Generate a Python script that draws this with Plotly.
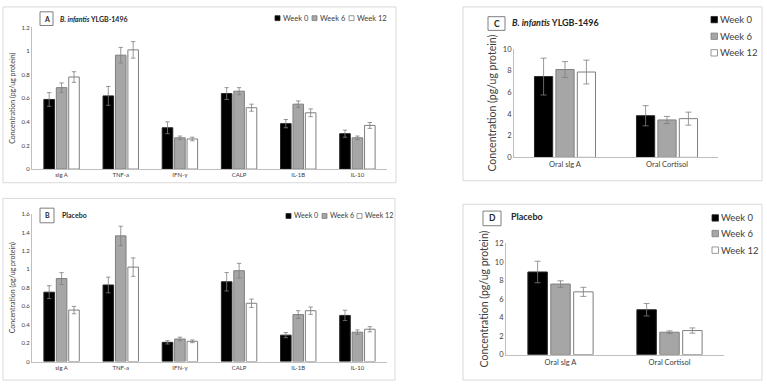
import plotly.graph_objects as go

W, H = 767, 388

# ---------------- data ----------------
cats_ab = ["sIg A", "TNF-a", "IFN-γ", "CALP", "IL-1B", "IL-10"]
weeks = ["Week 0", "Week 6", "Week 12"]

a_w0 = [0.59, 0.62, 0.35, 0.64, 0.385, 0.30]
a_w6 = [0.69, 0.965, 0.265, 0.66, 0.55, 0.265]
a_w12 = [0.78, 1.01, 0.255, 0.52, 0.477, 0.37]
a_e0 = [0.058, 0.08, 0.05, 0.05, 0.035, 0.03]
a_e6 = [0.04, 0.066, 0.015, 0.03, 0.027, 0.015]
a_e12 = [0.045, 0.07, 0.015, 0.03, 0.033, 0.025]

b_w0 = [0.752, 0.83, 0.208, 0.865, 0.286, 0.50]
b_w6 = [0.90, 1.363, 0.244, 0.985, 0.509, 0.318]
b_w12 = [0.558, 1.024, 0.219, 0.632, 0.551, 0.35]
b_e0 = [0.07, 0.085, 0.018, 0.10, 0.028, 0.056]
b_e6 = [0.064, 0.105, 0.02, 0.08, 0.042, 0.025]
b_e12 = [0.04, 0.10, 0.015, 0.045, 0.04, 0.028]

cats_cd = ["Oral sIg A", "Oral Cortisol"]
c_w0 = [7.45, 3.84]
c_w6 = [8.10, 3.45]
c_w12 = [7.87, 3.57]
c_e0 = [1.7, 0.93]
c_e6 = [0.73, 0.33]
c_e12 = [1.1, 0.6]

d_w0 = [8.91, 4.84]
d_w6 = [7.61, 2.42]
d_w12 = [6.77, 2.60]
d_e0 = [1.16, 0.67]
d_e6 = [0.35, 0.14]
d_e12 = [0.49, 0.28]

# ---------------- styles ----------------
FONT = "Lato"
fills = ["#000000", "#a6a6a6", "#ffffff"]
lines = ["#262626", "#7f7f7f", "#7f7f7f"]
TXT = "#404040"
AX = "#bfbfbf"


def px(x):
    return x / W


def py(y):
    return 1 - y / H


fig = go.Figure()

panels = [
    ("x", "y", cats_ab, [a_w0, a_w6, a_w12], [a_e0, a_e6, a_e12], 2.2),
    ("x2", "y2", cats_ab, [b_w0, b_w6, b_w12], [b_e0, b_e6, b_e12], 2.2),
    ("x3", "y3", cats_cd, [c_w0, c_w6, c_w12], [c_e0, c_e6, c_e12], 3),
    ("x4", "y4", cats_cd, [d_w0, d_w6, d_w12], [d_e0, d_e6, d_e12], 3),
]
for xa, ya, cats, vals, errs, cap in panels:
    for i in range(3):
        fig.add_trace(go.Bar(
            x=cats, y=vals[i], name=weeks[i], xaxis=xa, yaxis=ya,
            marker=dict(color=fills[i], line=dict(color=lines[i], width=1)),
            error_y=dict(type="data", array=errs[i], color="#7f7f7f",
                         thickness=0.8, width=cap),
            showlegend=False,
        ))

# ---------------- axes ----------------
def yax(domain, rng, dtick, fs, tfs, anchor):
    return dict(domain=domain, range=rng, dtick=dtick, anchor=anchor,
                showgrid=False, zeroline=False, showline=True,
                linecolor=AX, linewidth=1, ticks="",
                tickfont=dict(size=fs, color=TXT, family=FONT),
                title=dict(text="Concentration (pg/ug protein)",
                           font=dict(size=tfs, color=TXT, family=FONT),
                           standoff=4))


def xax(domain, fs, anchor):
    return dict(domain=domain, anchor=anchor, showgrid=False, zeroline=False,
                showline=True, linecolor=AX, linewidth=1, ticks="",
                tickfont=dict(size=fs, color=TXT, family=FONT))


layout = dict(
    width=W, height=H, margin=dict(l=0, r=0, t=0, b=0),
    paper_bgcolor="white", plot_bgcolor="white",
    barmode="group", bargap=0.37, bargroupgap=0.15,
    font=dict(family=FONT, color=TXT),
    xaxis=xax([px(32), px(387)], 6, "y"),
    yaxis=yax([py(169), py(24)], [0, 1.2], 0.2, 6, 7, "x"),
    xaxis2=xax([px(32), px(387)], 6, "y2"),
    yaxis2=yax([py(366), py(215)], [0, 1.6], 0.2, 6, 7, "x2"),
    xaxis3=xax([px(514), px(718)], 7.5, "y3"),
    yaxis3=yax([py(157), py(46)], [0, 10], 2, 7.5, 10.5, "x3"),
    xaxis4=xax([px(506), px(724)], 7.5, "y4"),
    yaxis4=yax([py(359), py(245)], [0, 12], 2, 7.5, 10.5, "x4"),
)
fig.update_layout(**layout)

shapes = []
annots = []

# panel borders
for (x0, y0, x1, y1) in [(3, 3, 396, 183), (3, 199, 395, 385),
                         (463, 3, 762, 181), (463, 205, 762, 385)]:
    shapes.append(dict(type="rect", xref="paper", yref="paper",
                       x0=px(x0), x1=px(x1), y0=py(y1), y1=py(y0),
                       line=dict(color="#d9d9d9", width=1), fillcolor="rgba(0,0,0,0)"))

# panel label boxes and titles
labels = [
    ("A", (40, 8, 53, 22), 7, "<b><i>B. infantis</i> YLGB-1496</b>", 58, 15, 7),
    ("B", (40, 209, 54, 224), 7, "<b>Placebo</b>", 60, 216, 7),
    ("C", (488, 13, 505, 27), 8.5, "<b><i>B. infantis</i> YLGB-1496</b>", 510, 19, 9),
    ("D", (483, 212, 501, 227), 8.5, "<b>Placebo</b>", 509, 218, 9),
]
for letter, (x0, y0, x1, y1), lfs, title, tx, ty, tfs in labels:
    shapes.append(dict(type="rect", xref="paper", yref="paper",
                       x0=px(x0), x1=px(x1), y0=py(y1), y1=py(y0),
                       line=dict(color="#7f7f7f", width=1), fillcolor="white"))
    annots.append(dict(xref="paper", yref="paper", x=px((x0 + x1) / 2), y=py((y0 + y1) / 2),
                       text="<b>" + letter + "</b>", showarrow=False,
                       font=dict(size=lfs, color="#262626", family=FONT),
                       xanchor="center", yanchor="middle"))
    annots.append(dict(xref="paper", yref="paper", x=px(tx), y=py(ty), text=title,
                       showarrow=False, font=dict(size=tfs, color="#262626", family=FONT),
                       xanchor="left", yanchor="middle"))

# legends (manual)
def legend_item(x, y, size, fs, idx):
    shapes.append(dict(type="rect", xref="paper", yref="paper",
                       x0=px(x), x1=px(x + size), y0=py(y + size / 2), y1=py(y - size / 2),
                       line=dict(color=lines[idx], width=0.8), fillcolor=fills[idx]))
    annots.append(dict(xref="paper", yref="paper", x=px(x + size + 0.8), y=py(y),
                       text=weeks[idx], showarrow=False,
                       font=dict(size=fs, color=TXT, family=FONT),
                       xanchor="left", yanchor="middle"))


for i, xx in enumerate([275, 312, 349]):
    legend_item(xx, 14.5, 5, 7.5, i)
for i, xx in enumerate([286, 322, 357]):
    legend_item(xx, 217, 5, 7.2, i)
for i, yy in enumerate([16, 33, 50]):
    legend_item(711, yy, 6.5, 9.5, i)
for i, yy in enumerate([219, 235, 252]):
    legend_item(712, yy, 6.5, 9.5, i)

fig.update_layout(shapes=shapes, annotations=annots)
fig.write_html("out.html")
